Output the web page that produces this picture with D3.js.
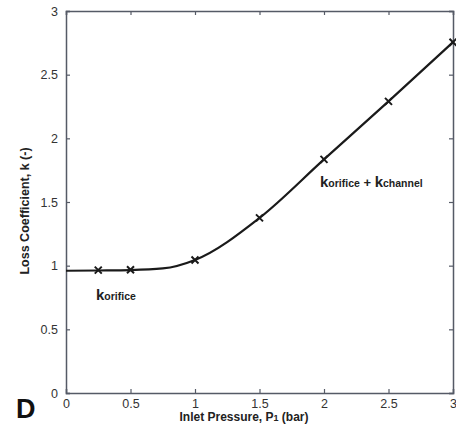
<!DOCTYPE html>
<html lang="en">
  <head>
    <meta charset="UTF-8" />
    <title>Loss Coefficient vs Inlet Pressure</title>
    <script src="https://d3js.org/d3.v7.min.js"></script>
    <style>
      body {
        margin: 0;
        padding: 0;
        background: #fff;
        font-family: "Liberation Sans", Arial, sans-serif;
      }
      .tick text {
        font-size: 12.5px;
        fill: #333;
      }
    </style>
  </head>
  <body>
    <svg id="chart" width="456" height="433"></svg>

    <script>
      // measured points (markers)
      var pressure = [0.25, 0.5, 1, 1.5, 2, 2.5, 3];
      var lossK = [0.965, 0.968, 1.045, 1.375, 1.835, 2.29, 2.755];

      // fitted curve
      var curveP = [0, 0.25, 0.5, 0.75, 1, 1.5, 2, 2.5, 3];
      var curveK = [0.96, 0.962, 0.965, 0.978, 1.045, 1.375, 1.835, 2.29, 2.755];

      var xTicks = [0, 0.5, 1, 1.5, 2, 2.5, 3];
      var yTicks = [0, 0.5, 1, 1.5, 2, 2.5, 3];

      var margin = { left: 66, right: 3, top: 11, bottom: 40 };
      var width = 456, height = 433;

      var svg = d3.select("#chart");

      var x = d3.scaleLinear().domain([0, 3]).range([margin.left, width - margin.right]);
      var y = d3.scaleLinear().domain([0, 3]).range([height - margin.bottom, margin.top]);

      var axisColor = "#555a66";

      // bottom + left axes with labels, inner ticks
      var xAxis = svg.append("g")
        .attr("transform", "translate(0," + (height - margin.bottom) + ")")
        .call(d3.axisBottom(x).tickValues(xTicks).tickSize(-4).tickPadding(6).tickFormat(d3.format("")));
      var yAxis = svg.append("g")
        .attr("transform", "translate(" + margin.left + ",0)")
        .call(d3.axisLeft(y).tickValues(yTicks).tickSize(-4).tickPadding(8).tickFormat(d3.format("")));

      // top + right axes, ticks only
      var xTop = svg.append("g")
        .attr("transform", "translate(0," + margin.top + ")")
        .call(d3.axisTop(x).tickValues(xTicks).tickSize(-4).tickFormat(""));
      var yRight = svg.append("g")
        .attr("transform", "translate(" + (width - margin.right) + ",0)")
        .call(d3.axisRight(y).tickValues(yTicks).tickSize(-4).tickFormat(""));

      [xAxis, yAxis, xTop, yRight].forEach(function (g) {
        g.select(".domain").attr("stroke", axisColor).attr("stroke-width", 1.5);
        g.selectAll(".tick line").attr("stroke", axisColor).attr("stroke-width", 1.2);
      });

      // curve
      var curveData = curveP.map(function (p, i) { return [p, curveK[i]]; });
      svg.append("path")
        .datum(curveData)
        .attr("fill", "none")
        .attr("stroke", "#1a1a1a")
        .attr("stroke-width", 2.2)
        .attr("d", d3.line()
          .x(function (d) { return x(d[0]); })
          .y(function (d) { return y(d[1]); })
          .curve(d3.curveMonotoneX));

      // x markers
      var s = 3.5;
      svg.append("g")
        .selectAll("path")
        .data(pressure.map(function (p, i) { return [p, lossK[i]]; }))
        .enter()
        .append("path")
        .attr("d", function (d) {
          var cx = x(d[0]), cy = y(d[1]);
          return "M" + (cx - s) + "," + (cy - s) + "L" + (cx + s) + "," + (cy + s) +
            "M" + (cx - s) + "," + (cy + s) + "L" + (cx + s) + "," + (cy - s);
        })
        .attr("stroke", "#1a1a1a")
        .attr("stroke-width", 2);

      // axis titles
      var xt = svg.append("text")
        .attr("x", 244)
        .attr("y", 421)
        .attr("text-anchor", "middle")
        .attr("font-weight", "bold")
        .attr("font-size", "12px")
        .attr("fill", "#222");
      xt.append("tspan").text("Inlet Pressure, P");
      xt.append("tspan").attr("font-size", "9px").text("1");
      xt.append("tspan").text(" (bar)");

      svg.append("text")
        .attr("transform", "translate(29,211) rotate(-90)")
        .attr("text-anchor", "middle")
        .attr("font-weight", "bold")
        .attr("font-size", "12.5px")
        .attr("fill", "#222")
        .text("Loss Coefficient, k (-)");

      // annotations
      function kLabel(parts, xPos, yPos) {
        var t = svg.append("text")
          .attr("x", xPos)
          .attr("y", yPos)
          .attr("font-weight", "bold")
          .attr("fill", "#222");
        parts.forEach(function (p) {
          t.append("tspan").attr("font-size", p[1]).text(p[0]);
        });
      }
      kLabel([["k", "15px"], ["orifice", "10.5px"]], 96, 300);
      kLabel([["k", "15px"], ["orifice", "10.5px"], [" + ", "13px"], ["k", "15px"], ["channel", "10.5px"]], 320, 187);

      // panel letter
      svg.append("text")
        .attr("x", 16)
        .attr("y", 418)
        .attr("font-weight", "bold")
        .attr("font-size", "27px")
        .attr("fill", "#111")
        .text("D");
    </script>
  </body>
</html>
